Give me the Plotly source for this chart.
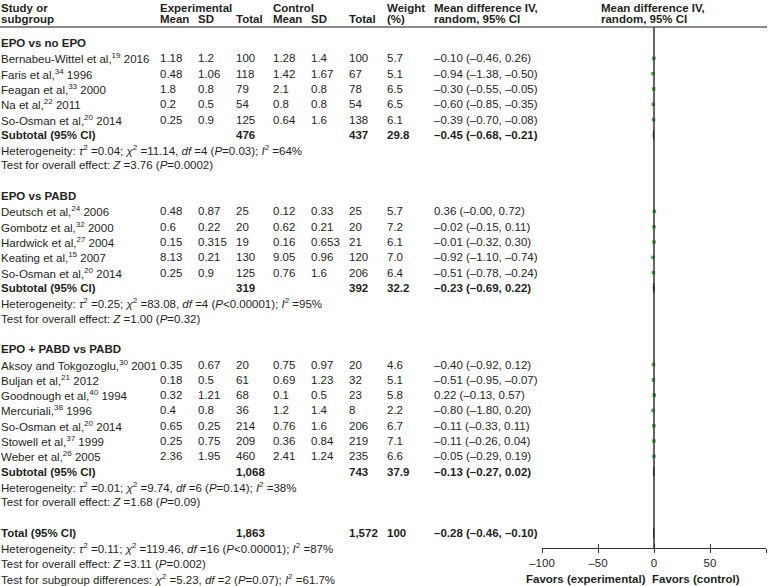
import plotly.graph_objects as go

# ---- data -------------------------------------------------------------
group_names = ["EPO vs no EPO", "EPO vs PABD", "EPO + PABD vs PABD"]

study_names = [
    ["Bernabeu-Wittel et al,", "Faris et al,", "Feagan et al,", "Na et al,", "So-Osman et al,"],
    ["Deutsch et al,", "Gombotz et al,", "Hardwick et al,", "Keating et al,", "So-Osman et al,"],
    ["Aksoy and Tokgozoglu,", "Buljan et al,", "Goodnough et al,", "Mercuriali,",
     "So-Osman et al,", "Stowell et al,", "Weber et al,"],
]
study_refs = [[19, 34, 33, 22, 20], [24, 32, 27, 15, 20], [30, 21, 40, 38, 20, 37, 26]]
study_years = [[2016, 1996, 2000, 2011, 2014], [2006, 2000, 2004, 2007, 2014],
               [2001, 2012, 1994, 1996, 2014, 1999, 2005]]

exp_mean = [[1.18, 0.48, 1.8, 0.2, 0.25], [0.48, 0.6, 0.15, 8.13, 0.25],
            [0.35, 0.18, 0.32, 0.4, 0.65, 0.25, 2.36]]
exp_sd = [[1.2, 1.06, 0.8, 0.5, 0.9], [0.87, 0.22, 0.315, 0.21, 0.9],
          [0.67, 0.5, 1.21, 0.8, 0.25, 0.75, 1.95]]
exp_n = [[100, 118, 79, 54, 125], [25, 20, 19, 130, 125], [20, 61, 68, 36, 214, 209, 460]]
ctl_mean = [[1.28, 1.42, 2.1, 0.8, 0.64], [0.12, 0.62, 0.16, 9.05, 0.76],
            [0.75, 0.69, 0.1, 1.2, 0.76, 0.36, 2.41]]
ctl_sd = [[1.4, 1.67, 0.8, 0.8, 1.6], [0.33, 0.21, 0.653, 0.96, 1.6],
          [0.97, 1.23, 0.5, 1.4, 1.6, 0.84, 1.24]]
ctl_n = [[100, 67, 78, 54, 138], [25, 20, 21, 120, 206], [20, 32, 23, 8, 206, 219, 235]]
weight = [[5.7, 5.1, 6.5, 6.5, 6.1], [5.7, 7.2, 6.1, 7.0, 6.4], [4.6, 5.1, 5.8, 2.2, 6.7, 7.1, 6.6]]
md = [[-0.10, -0.94, -0.30, -0.60, -0.39], [0.36, -0.02, -0.01, -0.92, -0.51],
      [-0.40, -0.51, 0.22, -0.80, -0.11, -0.11, -0.05]]
md_lo = [[-0.46, -1.38, -0.55, -0.85, -0.70], [-0.0, -0.15, -0.32, -1.10, -0.78],
         [-0.92, -0.95, -0.13, -1.80, -0.33, -0.26, -0.29]]
md_hi = [[0.26, -0.50, -0.05, -0.35, -0.08], [0.72, 0.11, 0.30, -0.74, -0.24],
         [0.12, -0.07, 0.57, 0.20, 0.11, 0.04, 0.19]]

sub_exp_n = [476, 319, 1068]
sub_ctl_n = [437, 392, 743]
sub_weight = ["29.8", "32.2", "37.9"]
sub_md = [-0.45, -0.23, -0.13]
sub_lo = [-0.68, -0.69, -0.27]
sub_hi = [-0.21, 0.22, 0.02]
sub_tau2 = ["0.04", "0.25", "0.01"]
sub_chi2 = ["11.14", "83.08", "9.74"]
sub_df = [4, 4, 6]
sub_p = ["=0.03", "<0.00001", "=0.14"]
sub_i2 = ["64%", "95%", "38%"]
sub_z = ["3.76", "1.00", "1.68"]
sub_pz = ["0.0002", "0.32", "0.09"]

total_exp_n = 1863
total_ctl_n = 1572
total_weight = "100"
total_md, total_lo, total_hi = -0.28, -0.46, -0.10

axis_ticks = [-100, -50, 0, 50, 100]

# ---- layout helpers ---------------------------------------------------
W, H = 775, 586
TXT = "#231f20"
FONT = "Liberation Sans, Arial, sans-serif"
FS = 11.5
ROW0, ROWH = 43, 15.31          # pixel y of first row, row height


def px(x):
    return x / W


def num(v):
    return f"{v:g}"


def ci(m, lo, hi):
    s = f"{m:.2f} ({lo:.2f}, {hi:.2f})"
    return s.replace("-", "\u2013")


def het(tau2, chi2, df, p, i2):
    return (f"Heterogeneity: <i>\u03c4</i><sup>2</sup> ={tau2}; <i>\u03c7</i><sup>2</sup> ={chi2}, "
            f"<i>df</i> ={df} (<i>P</i>{p}); <i>I</i><sup>2</sup> ={i2}")


annotations = []


def txt(x, r, s, bold=False, anchor="left", xref="paper"):
    if bold:
        s = f"<b>{s}</b>"
    annotations.append(dict(x=x, y=r, xref=xref, yref="y", text=s, showarrow=False,
                            xanchor=anchor, yanchor="middle", borderpad=0,
                            font=dict(family=FONT, size=FS, color=TXT)))


col_x = [px(0), px(159), px(197), px(235), px(272), px(310), px(348), px(386), px(433)]

# header
r1, r2 = -2.29, -1.57
txt(col_x[0], r1, "Study or", True)
txt(col_x[0], r2, "subgroup", True)
txt(col_x[1], r1, "Experimental", True)
txt(col_x[4], r1, "Control", True)
for c, s in zip([1, 2, 3, 4, 5, 6], ["Mean", "SD", "Total", "Mean", "SD", "Total"]):
    txt(col_x[c], r2, s, True)
txt(col_x[7], r1, "Weight", True)
txt(col_x[7], r2, "(%)", True)
txt(col_x[8], r1, "Mean difference IV,", True)
txt(col_x[8], r2, "random, 95% CI", True)
txt(px(600), r1, "Mean difference IV,", True)
txt(px(600), r2, "random, 95% CI", True)

# body rows
pt_r, pt_m, pt_lo, pt_hi = [], [], [], []
dia_x, dia_y = [], []


def diamond(m, lo, hi, r):
    dia_x.extend([lo, m, hi, m, lo, None])
    dia_y.extend([r, r - 0.3, r, r + 0.3, r, None])


r = 0
for g, gname in enumerate(group_names):
    txt(col_x[0], r, gname, True)
    r += 1
    for i, name in enumerate(study_names[g]):
        txt(col_x[0], r, f"{name}<sup>{study_refs[g][i]}</sup> {study_years[g][i]}")
        vals = [num(exp_mean[g][i]), num(exp_sd[g][i]), str(exp_n[g][i]),
                num(ctl_mean[g][i]), num(ctl_sd[g][i]), str(ctl_n[g][i]), f"{weight[g][i]:.1f}",
                ci(md[g][i], md_lo[g][i], md_hi[g][i])]
        for c, s in enumerate(vals, start=1):
            txt(col_x[c], r, s)
        pt_r.append(r)
        pt_m.append(md[g][i])
        pt_lo.append(md_lo[g][i])
        pt_hi.append(md_hi[g][i])
        r += 1
    txt(col_x[0], r, "Subtotal (95% CI)", True)
    txt(col_x[3], r, f"{sub_exp_n[g]:,}", True)
    txt(col_x[6], r, f"{sub_ctl_n[g]:,}", True)
    txt(col_x[7], r, sub_weight[g], True)
    txt(col_x[8], r, ci(sub_md[g], sub_lo[g], sub_hi[g]), True)
    diamond(sub_md[g], sub_lo[g], sub_hi[g], r)
    r += 1
    txt(col_x[0], r, het(sub_tau2[g], sub_chi2[g], sub_df[g], sub_p[g], sub_i2[g]))
    r += 1
    txt(col_x[0], r, f"Test for overall effect: <i>Z</i> ={sub_z[g]} (<i>P</i>={sub_pz[g]})")
    r += 2

txt(col_x[0], r, "Total (95% CI)", True)
txt(col_x[3], r, f"{total_exp_n:,}", True)
txt(col_x[6], r, f"{total_ctl_n:,}", True)
txt(col_x[7], r, total_weight, True)
txt(col_x[8], r, ci(total_md, total_lo, total_hi), True)
diamond(total_md, total_lo, total_hi, r)
txt(col_x[0], r + 1, het("0.11", "119.46", 16, "<0.00001", "87%"))
txt(col_x[0], r + 2, "Test for overall effect: <i>Z</i> =3.11 (<i>P</i>=0.002)")
txt(col_x[0], r + 3, "Test for subgroup differences: <i>\u03c7</i><sup>2</sup> =5.23, "
                     "<i>df</i> =2 (<i>P</i>=0.07); <i>I</i><sup>2</sup> =61.7%")

r_axis = (548 - ROW0) / ROWH
txt(px(647), r + 3, "Favors (experimental)", True, anchor="right")
txt(px(651), r + 3, "Favors (control)", True, anchor="left")

# ---- figure -----------------------------------------------------------
fig = go.Figure()

fig.add_trace(go.Scatter(
    x=dia_x, y=dia_y, mode="lines", fill="toself", fillcolor="#111111",
    line=dict(color="#111111", width=1), cliponaxis=False, hoverinfo="skip"))

fig.add_trace(go.Scatter(
    x=pt_m, y=pt_r, mode="markers",
    marker=dict(symbol="square", size=3.5, color="#33b233"),
    error_x=dict(type="data", symmetric=False,
                 array=[h - m for h, m in zip(pt_hi, pt_m)],
                 arrayminus=[m - l for m, l in zip(pt_m, pt_lo)],
                 color="#33b233", thickness=1, width=0),
    cliponaxis=False))

fig.add_trace(go.Scatter(x=[None], y=[None], xaxis="x2", showlegend=False))

axis_pos = 1 - 548 / H
xdom = [px(542), px(766)]
tick_text = [str(t).replace("-", "\u2013") for t in axis_ticks]

fig.update_layout(
    width=W, height=H,
    margin=dict(l=0, r=0, t=0, b=0, autoexpand=False),
    paper_bgcolor="white", plot_bgcolor="white",
    showlegend=False,
    font=dict(family=FONT, size=FS, color=TXT),
    xaxis=dict(domain=xdom, range=[-100, 100], anchor="free", position=axis_pos,
               automargin=False,
               showgrid=False, zeroline=False, showline=True, linecolor="#333333", linewidth=1,
               ticks="outside", ticklen=4, tickcolor="#333333",
               tickvals=axis_ticks, ticktext=tick_text,
               tickfont=dict(family=FONT, size=FS, color=TXT)),
    xaxis2=dict(domain=xdom, range=[-100, 100], anchor="free", position=axis_pos,
                overlaying="x", showgrid=False, zeroline=False, showline=False,
                automargin=False,
                ticks="inside", ticklen=4, tickcolor="#333333",
                tickvals=axis_ticks, showticklabels=False),
    yaxis=dict(range=[(H - ROW0) / ROWH, -ROW0 / ROWH], visible=False, domain=[0, 1],
               automargin=False),
    annotations=annotations,
    shapes=[
        dict(type="line", xref="paper", yref="y", x0=0, x1=px(767),
             y0=(27 - ROW0) / ROWH, y1=(27 - ROW0) / ROWH,
             line=dict(color="#8a8a8a", width=2)),
        dict(type="line", xref="x", yref="y", x0=0, x1=0,
             y0=(27 - ROW0) / ROWH, y1=r_axis,
             line=dict(color="#333333", width=1.5)),
    ],
)

fig.write_html("out.html", config={"displayModeBar": False},
               post_script="document.body.style.margin='0';document.body.style.overflow='hidden';")
